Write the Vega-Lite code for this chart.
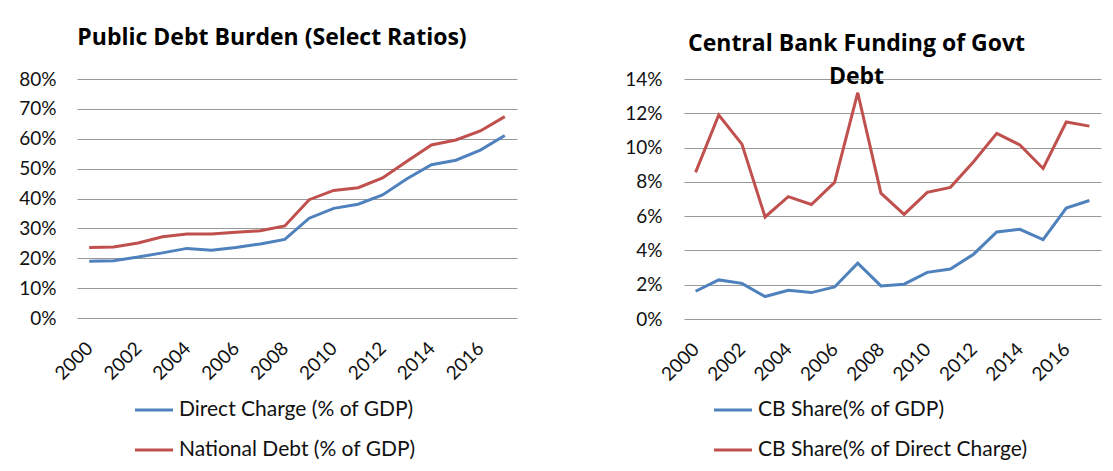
{
  "$schema": "https://vega.github.io/schema/vega-lite/v6.json",
  "padding": {"left": 18, "top": 27, "right": 5, "bottom": 5},
  "datasets": {
    "left": [
      {"year": "2000", "series": "Direct Charge (% of GDP)", "v": 0.190},
      {"year": "2001", "series": "Direct Charge (% of GDP)", "v": 0.192},
      {"year": "2002", "series": "Direct Charge (% of GDP)", "v": 0.204},
      {"year": "2003", "series": "Direct Charge (% of GDP)", "v": 0.218},
      {"year": "2004", "series": "Direct Charge (% of GDP)", "v": 0.233},
      {"year": "2005", "series": "Direct Charge (% of GDP)", "v": 0.227},
      {"year": "2006", "series": "Direct Charge (% of GDP)", "v": 0.236},
      {"year": "2007", "series": "Direct Charge (% of GDP)", "v": 0.248},
      {"year": "2008", "series": "Direct Charge (% of GDP)", "v": 0.263},
      {"year": "2009", "series": "Direct Charge (% of GDP)", "v": 0.334},
      {"year": "2010", "series": "Direct Charge (% of GDP)", "v": 0.367},
      {"year": "2011", "series": "Direct Charge (% of GDP)", "v": 0.381},
      {"year": "2012", "series": "Direct Charge (% of GDP)", "v": 0.412},
      {"year": "2013", "series": "Direct Charge (% of GDP)", "v": 0.466},
      {"year": "2014", "series": "Direct Charge (% of GDP)", "v": 0.513},
      {"year": "2015", "series": "Direct Charge (% of GDP)", "v": 0.528},
      {"year": "2016", "series": "Direct Charge (% of GDP)", "v": 0.562},
      {"year": "2017", "series": "Direct Charge (% of GDP)", "v": 0.611},
      {"year": "2000", "series": "National Debt (% of GDP)", "v": 0.236},
      {"year": "2001", "series": "National Debt (% of GDP)", "v": 0.238},
      {"year": "2002", "series": "National Debt (% of GDP)", "v": 0.251},
      {"year": "2003", "series": "National Debt (% of GDP)", "v": 0.272},
      {"year": "2004", "series": "National Debt (% of GDP)", "v": 0.281},
      {"year": "2005", "series": "National Debt (% of GDP)", "v": 0.281},
      {"year": "2006", "series": "National Debt (% of GDP)", "v": 0.287},
      {"year": "2007", "series": "National Debt (% of GDP)", "v": 0.292},
      {"year": "2008", "series": "National Debt (% of GDP)", "v": 0.308},
      {"year": "2009", "series": "National Debt (% of GDP)", "v": 0.396},
      {"year": "2010", "series": "National Debt (% of GDP)", "v": 0.427},
      {"year": "2011", "series": "National Debt (% of GDP)", "v": 0.436},
      {"year": "2012", "series": "National Debt (% of GDP)", "v": 0.469},
      {"year": "2013", "series": "National Debt (% of GDP)", "v": 0.525},
      {"year": "2014", "series": "National Debt (% of GDP)", "v": 0.579},
      {"year": "2015", "series": "National Debt (% of GDP)", "v": 0.596},
      {"year": "2016", "series": "National Debt (% of GDP)", "v": 0.626},
      {"year": "2017", "series": "National Debt (% of GDP)", "v": 0.674}
    ],
    "right": [
      {"year": "2000", "series": "CB Share(% of GDP)", "v": 0.0162},
      {"year": "2001", "series": "CB Share(% of GDP)", "v": 0.0228},
      {"year": "2002", "series": "CB Share(% of GDP)", "v": 0.0208},
      {"year": "2003", "series": "CB Share(% of GDP)", "v": 0.0131},
      {"year": "2004", "series": "CB Share(% of GDP)", "v": 0.0168},
      {"year": "2005", "series": "CB Share(% of GDP)", "v": 0.0154},
      {"year": "2006", "series": "CB Share(% of GDP)", "v": 0.0187},
      {"year": "2007", "series": "CB Share(% of GDP)", "v": 0.0326},
      {"year": "2008", "series": "CB Share(% of GDP)", "v": 0.0193},
      {"year": "2009", "series": "CB Share(% of GDP)", "v": 0.0203},
      {"year": "2010", "series": "CB Share(% of GDP)", "v": 0.0272},
      {"year": "2011", "series": "CB Share(% of GDP)", "v": 0.0292},
      {"year": "2012", "series": "CB Share(% of GDP)", "v": 0.0378},
      {"year": "2013", "series": "CB Share(% of GDP)", "v": 0.0508},
      {"year": "2014", "series": "CB Share(% of GDP)", "v": 0.0523},
      {"year": "2015", "series": "CB Share(% of GDP)", "v": 0.0463},
      {"year": "2016", "series": "CB Share(% of GDP)", "v": 0.0647},
      {"year": "2017", "series": "CB Share(% of GDP)", "v": 0.0691},
      {"year": "2000", "series": "CB Share(% of Direct Charge)", "v": 0.0855},
      {"year": "2001", "series": "CB Share(% of Direct Charge)", "v": 0.119},
      {"year": "2002", "series": "CB Share(% of Direct Charge)", "v": 0.102},
      {"year": "2003", "series": "CB Share(% of Direct Charge)", "v": 0.0595},
      {"year": "2004", "series": "CB Share(% of Direct Charge)", "v": 0.0714},
      {"year": "2005", "series": "CB Share(% of Direct Charge)", "v": 0.0668},
      {"year": "2006", "series": "CB Share(% of Direct Charge)", "v": 0.0797},
      {"year": "2007", "series": "CB Share(% of Direct Charge)", "v": 0.132},
      {"year": "2008", "series": "CB Share(% of Direct Charge)", "v": 0.0734},
      {"year": "2009", "series": "CB Share(% of Direct Charge)", "v": 0.061},
      {"year": "2010", "series": "CB Share(% of Direct Charge)", "v": 0.0739},
      {"year": "2011", "series": "CB Share(% of Direct Charge)", "v": 0.0768},
      {"year": "2012", "series": "CB Share(% of Direct Charge)", "v": 0.0917},
      {"year": "2013", "series": "CB Share(% of Direct Charge)", "v": 0.1083},
      {"year": "2014", "series": "CB Share(% of Direct Charge)", "v": 0.1015},
      {"year": "2015", "series": "CB Share(% of Direct Charge)", "v": 0.0878},
      {"year": "2016", "series": "CB Share(% of Direct Charge)", "v": 0.1149},
      {"year": "2017", "series": "CB Share(% of Direct Charge)", "v": 0.1125}
    ]
  },
  "spacing": 167,
  "bounds": "flush",
  "hconcat": [
    {
      "width": 440,
      "height": 239,
      "title": {"text": "Public Debt Burden (Select Ratios)", "offset": 20, "dx": -25},
      "data": {"name": "left"},
      "mark": {"type": "line", "strokeWidth": 3},
      "encoding": {
        "x": {
          "field": "year", "type": "ordinal",
          "scale": {"type": "point", "padding": 0.5},
          "axis": {"values": ["2000","2002","2004","2006","2008","2010","2012","2014","2016"], "labelAngle": -45, "labelAlign": "right", "labelBaseline": "middle", "labelPadding": 27, "grid": false, "title": null}
        },
        "y": {
          "field": "v", "type": "quantitative",
          "scale": {"domain": [0, 0.8]},
          "axis": {"values": [0,0.1,0.2,0.3,0.4,0.5,0.6,0.7,0.8], "format": ".0%", "labelPadding": 21, "grid": true, "title": null}
        },
        "color": {
          "field": "series", "type": "nominal",
          "scale": {"domain": ["Direct Charge (% of GDP)", "National Debt (% of GDP)"], "range": ["#4F81BD", "#C0504D"]},
          "legend": {"orient": "none", "legendX": 56, "legendY": 310, "title": null, "direction": "vertical"}
        }
      }
    },
    {
      "width": 417,
      "height": 240,
      "title": {"text": ["Central Bank Funding of Govt", "Debt"], "lineHeight": 33, "offset": -19, "dx": -36},
      "data": {"name": "right"},
      "mark": {"type": "line", "strokeWidth": 3},
      "encoding": {
        "x": {
          "field": "year", "type": "ordinal",
          "scale": {"type": "point", "padding": 0.5},
          "axis": {"values": ["2000","2002","2004","2006","2008","2010","2012","2014","2016"], "labelAngle": -45, "labelAlign": "right", "labelBaseline": "middle", "labelPadding": 27, "grid": false, "title": null}
        },
        "y": {
          "field": "v", "type": "quantitative",
          "scale": {"domain": [0, 0.14]},
          "axis": {"values": [0,0.02,0.04,0.06,0.08,0.1,0.12,0.14], "format": ".0%", "labelPadding": 22, "grid": true, "title": null}
        },
        "color": {
          "field": "series", "type": "nominal",
          "scale": {"domain": ["CB Share(% of GDP)", "CB Share(% of Direct Charge)"], "range": ["#4F81BD", "#C0504D"]},
          "legend": {"orient": "none", "legendX": 28, "legendY": 310, "title": null, "direction": "vertical"}
        }
      }
    }
  ],
  "resolve": {"scale": {"color": "independent", "x": "independent", "y": "independent"}, "legend": {"color": "independent"}},
  "config": {
    "font": "Lato",
    "view": {"stroke": null},
    "axis": {"labelFont": "Lato", "labelFontSize": 19, "labelColor": "#111", "ticks": false, "tickSize": 0, "domain": false, "gridColor": "#999", "gridWidth": 1},
    "legend": {"labelFont": "Lato", "labelFontSize": 21, "labelColor": "#111", "symbolType": "stroke", "symbolStrokeWidth": 3, "symbolSize": 1450, "labelOffset": 4, "rowPadding": 9, "padding": 0, "labelLimit": 400},
    "title": {"font": "Open Sans", "fontSize": 23, "fontWeight": "bold", "color": "#000", "anchor": "middle"}
  }
}
